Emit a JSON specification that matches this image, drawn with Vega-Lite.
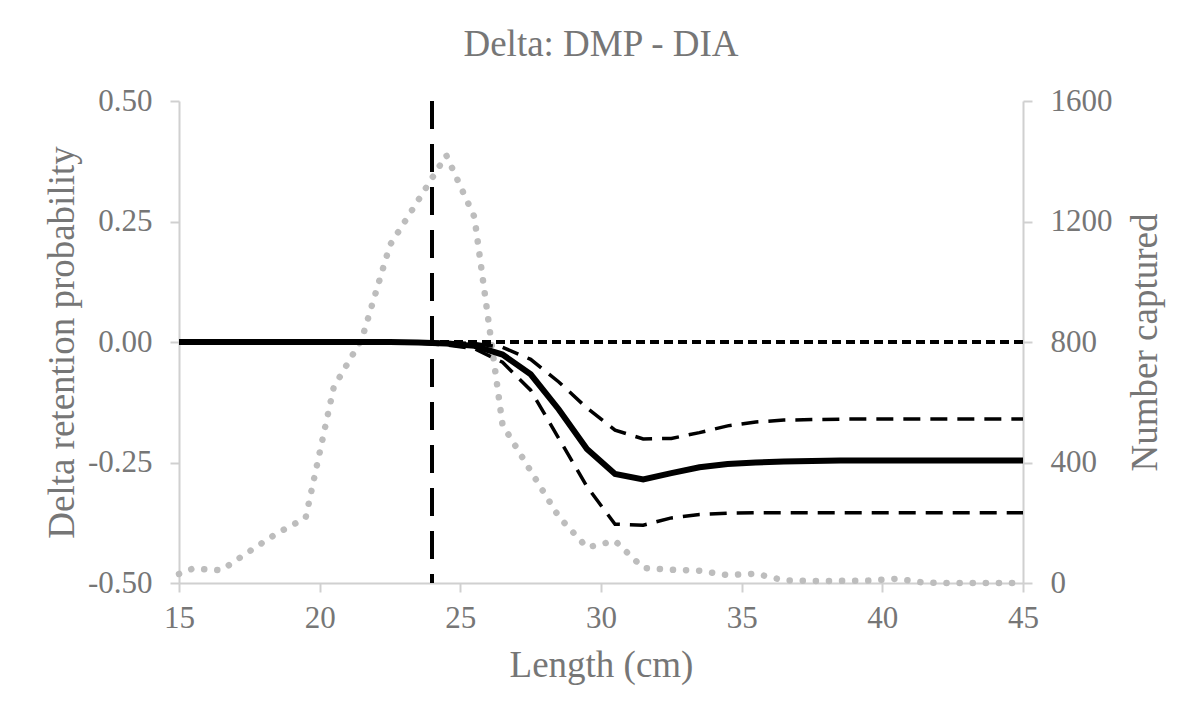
{
  "$schema": "https://vega.github.io/schema/vega-lite/v6.json",
  "description": "Delta retention probability DMP - DIA with number captured",
  "width": 844,
  "height": 482,
  "autosize": "none",
  "padding": {"left": 179, "top": 101, "right": 177, "bottom": 139},
  "background": "white",
  "title": {
    "text": "Delta: DMP - DIA",
    "font": "Liberation Serif",
    "fontSize": 37,
    "fontWeight": "normal",
    "color": "#767676",
    "offset": 21
  },
  "datasets": {
    "prob": [
      {"len": 15, "est": 0, "lo": 0, "hi": 0},
      {"len": 15.5, "est": 0, "lo": 0, "hi": 0},
      {"len": 16.5, "est": 0, "lo": 0, "hi": 0},
      {"len": 17.5, "est": 0, "lo": 0, "hi": 0},
      {"len": 18.5, "est": 0, "lo": 0, "hi": 0},
      {"len": 19.5, "est": 0, "lo": 0, "hi": 0},
      {"len": 20.5, "est": 0, "lo": 0, "hi": 0},
      {"len": 21.5, "est": 0, "lo": 0, "hi": 0},
      {"len": 22.5, "est": 0, "lo": 0, "hi": 0},
      {"len": 23.5, "est": -0.001, "lo": -0.002, "hi": 0},
      {"len": 24.5, "est": -0.003, "lo": -0.006, "hi": -0.001},
      {"len": 25.5, "est": -0.008, "lo": -0.014, "hi": -0.003},
      {"len": 26.5, "est": -0.026, "lo": -0.042, "hi": -0.011},
      {"len": 27.5, "est": -0.067, "lo": -0.1, "hi": -0.036},
      {"len": 28.5, "est": -0.14, "lo": -0.2, "hi": -0.083},
      {"len": 29.5, "est": -0.222, "lo": -0.3, "hi": -0.137},
      {"len": 30.5, "est": -0.274, "lo": -0.378, "hi": -0.183},
      {"len": 31.5, "est": -0.285, "lo": -0.38, "hi": -0.201},
      {"len": 32.5, "est": -0.272, "lo": -0.365, "hi": -0.2},
      {"len": 33.5, "est": -0.26, "lo": -0.358, "hi": -0.188},
      {"len": 34.5, "est": -0.253, "lo": -0.355, "hi": -0.174},
      {"len": 35.5, "est": -0.25, "lo": -0.354, "hi": -0.166},
      {"len": 36.5, "est": -0.248, "lo": -0.354, "hi": -0.162},
      {"len": 37.5, "est": -0.247, "lo": -0.354, "hi": -0.161},
      {"len": 38.5, "est": -0.246, "lo": -0.354, "hi": -0.16},
      {"len": 39.5, "est": -0.246, "lo": -0.354, "hi": -0.16},
      {"len": 40.5, "est": -0.246, "lo": -0.354, "hi": -0.16},
      {"len": 41.5, "est": -0.246, "lo": -0.354, "hi": -0.16},
      {"len": 42.5, "est": -0.246, "lo": -0.354, "hi": -0.16},
      {"len": 43.5, "est": -0.246, "lo": -0.354, "hi": -0.16},
      {"len": 44.5, "est": -0.246, "lo": -0.354, "hi": -0.16},
      {"len": 45, "est": -0.246, "lo": -0.354, "hi": -0.16}
    ],
    "catch": [
      {"len": 15, "n": 30},
      {"len": 15.5, "n": 48},
      {"len": 16.5, "n": 42},
      {"len": 17.5, "n": 105},
      {"len": 18.5, "n": 166},
      {"len": 19.5, "n": 216},
      {"len": 20.5, "n": 650},
      {"len": 21.5, "n": 810},
      {"len": 22.5, "n": 1122},
      {"len": 23.5, "n": 1270},
      {"len": 24.5, "n": 1420},
      {"len": 25.5, "n": 1215},
      {"len": 26.5, "n": 525},
      {"len": 27.5, "n": 372},
      {"len": 28.5, "n": 220},
      {"len": 29.5, "n": 118},
      {"len": 30.5, "n": 140},
      {"len": 31.5, "n": 50},
      {"len": 32.5, "n": 44},
      {"len": 33.5, "n": 41},
      {"len": 34.5, "n": 26},
      {"len": 35.5, "n": 31},
      {"len": 36.5, "n": 9},
      {"len": 37.5, "n": 7},
      {"len": 38.5, "n": 7},
      {"len": 39.5, "n": 8},
      {"len": 40.5, "n": 14},
      {"len": 41.5, "n": 1},
      {"len": 42.5, "n": 0},
      {"len": 43.5, "n": 0},
      {"len": 44.5, "n": 0},
      {"len": 45, "n": 0}
    ]
  },
  "layer": [
    {
      "data": {"name": "catch"},
      "mark": {
        "type": "line",
        "color": "#bdbdbd",
        "strokeWidth": 6.5,
        "strokeDash": [0.1, 13],
        "strokeCap": "round"
      },
      "encoding": {
        "x": {
          "field": "len",
          "type": "quantitative",
          "scale": {"domain": [15, 45], "nice": false},
          "title": "Length (cm)",
          "axis": {"values": [15, 20, 25, 30, 35, 40, 45]}
        },
        "y": {
          "field": "n",
          "type": "quantitative",
          "scale": {"domain": [0, 1600], "nice": false},
          "axis": {
            "orient": "right",
            "values": [0, 400, 800, 1200, 1600],
            "format": "d",
            "title": "Number captured",
            "titleAngle": 270,
            "titleBaseline": "top",
            "titlePadding": 15,
            "labelPadding": 18
          }
        }
      }
    },
    {
      "data": {"name": "prob"},
      "encoding": {
        "x": {
          "field": "len",
          "type": "quantitative",
          "scale": {"domain": [15, 45], "nice": false},
          "title": "Length (cm)",
          "axis": {"values": [15, 20, 25, 30, 35, 40, 45]}
        }
      },
      "layer": [
        {
          "mark": {"type": "rule", "color": "black", "strokeWidth": 3, "strokeDash": [9, 5]},
          "encoding": {"x": null, "y": {"datum": 0, "type": "quantitative"}}
        },
        {
          "mark": {"type": "line", "color": "black", "strokeWidth": 3.5, "strokeDash": [17, 10]},
          "encoding": {
            "y": {
              "field": "lo",
              "type": "quantitative",
              "scale": {"domain": [-0.5, 0.5], "nice": false},
              "title": "Delta retention probability"
            }
          }
        },
        {
          "mark": {"type": "line", "color": "black", "strokeWidth": 3.5, "strokeDash": [17, 10]},
          "encoding": {
            "y": {
              "field": "hi",
              "type": "quantitative",
              "scale": {"domain": [-0.5, 0.5], "nice": false},
              "title": "Delta retention probability"
            }
          }
        },
        {
          "mark": {"type": "line", "color": "black", "strokeWidth": 6},
          "encoding": {
            "y": {
              "field": "est",
              "type": "quantitative",
              "scale": {"domain": [-0.5, 0.5], "nice": false},
              "title": "Delta retention probability",
              "axis": {
                "values": [-0.5, -0.25, 0, 0.25, 0.5],
                "labelExpr": "replace(format(datum.value, '.2f'), '\u2212', '-')",
                "labelPadding": 18,
                "titlePadding": 6
              }
            }
          }
        },
        {
          "mark": {"type": "rule", "color": "black", "strokeWidth": 3.5, "strokeDash": [28, 15]},
          "encoding": {"x": {"datum": 24, "type": "quantitative"}}
        }
      ]
    }
  ],
  "resolve": {"scale": {"y": "independent"}},
  "config": {
    "view": {"stroke": null},
    "axis": {
      "grid": false,
      "domainColor": "#d0d0d0",
      "domainWidth": 2,
      "tickColor": "#d0d0d0",
      "tickWidth": 2,
      "tickSize": 9,
      "labelFont": "Liberation Serif",
      "labelFontSize": 31,
      "labelColor": "#767676",
      "labelOverlap": false,
      "titleFont": "Liberation Serif",
      "titleFontSize": 37,
      "titleFontWeight": "normal",
      "titleColor": "#767676"
    },
    "axisX": {
      "labelFlush": false,
      "labelPadding": 11,
      "titlePadding": 14
    }
  }
}
